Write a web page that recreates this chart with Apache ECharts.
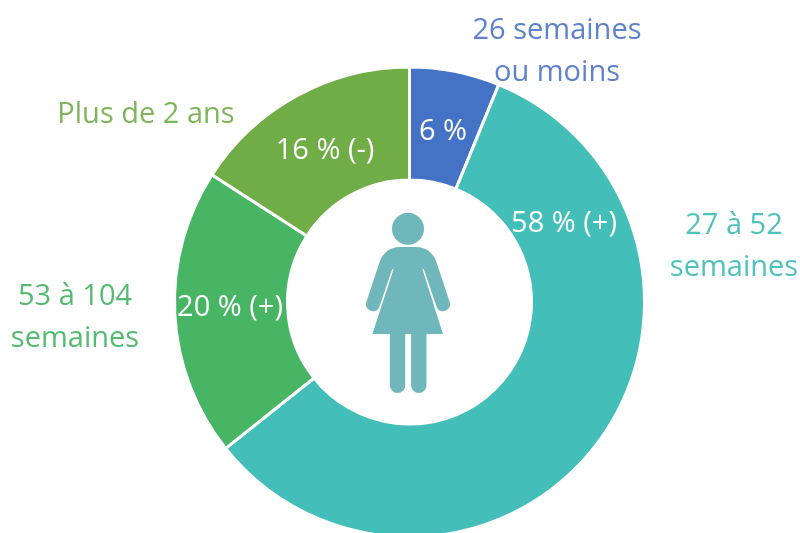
<!DOCTYPE html>
<html>
<head>
<meta charset="utf-8">
<style>
  html, body { margin: 0; background: #fff; }
  #chart { width: 800px; height: 533px; }
</style>
<script src="https://cdn.jsdelivr.net/npm/echarts@6/dist/echarts.min.js"></script>
</head>
<body>
<div id="chart"></div>
<script>
const categories = ['26 semaines\nou moins', '27 à 52\nsemaines', '53 à 104\nsemaines', 'Plus de 2 ans'];
const values = [6.2, 58.1, 19.8, 15.9];
const valueLabels = ['6 %', '58 % (+)', '20 % (+)', '16 % (-)'];

const sliceColors = ['#4472C4', '#43BEB8', '#47B563', '#70AD47'];
const nameColors = ['#5F82CC', '#50C2BC', '#55BB70', '#7FB55A'];
const valuePos = [[443, 132], [564, 224], [230, 308], [325, 151]];
const namePos = [[557, 52], [734, 247], [75, 318], [146, 115]];

const fontFamily = '"Open Sans", "Noto Sans", sans-serif';
const center = [409.5, 302];
const radius = [122, 235];

const personPath = 'M180 172 L228 172 Q268 172 286 214 L326 338 Q330 358 308 364 Q294 366 288 352 L250 238 L246 238 L306 432 L258 432 L258 586 A22.5 22.5 0 0 1 213 586 L213 432 L196 432 L196 586 A22.5 22.5 0 0 1 151 586 L151 432 L100 432 L162 238 L158 238 L120 352 Q114 366 100 364 Q78 358 82 338 L122 214 Q140 172 180 172 Z';

const chart = echarts.init(document.getElementById('chart'), null, { renderer: 'canvas' });

const pieData = categories.map((name, i) => ({
    name,
    value: values[i],
    itemStyle: { color: sliceColors[i] }
}));

chart.setOption({
    animation: false,
    backgroundColor: '#fff',
    series: [
        {
            // anneau + valeurs en blanc
            type: 'pie',
            center,
            radius,
            startAngle: 90,
            silent: true,
            itemStyle: { borderColor: '#fff', borderWidth: 3 },
            label: {
                show: true,
                position: 'inside',
                formatter: p => valueLabels[p.dataIndex],
                color: '#fff',
                fontFamily,
                fontSize: 29
            },
            labelLayout: p => ({
                x: valuePos[p.dataIndex][0],
                y: valuePos[p.dataIndex][1],
                align: 'center',
                verticalAlign: 'middle',
                hideOverlap: false
            }),
            data: pieData
        },
        {
            // noms des catégories autour de l'anneau
            type: 'pie',
            center,
            radius,
            startAngle: 90,
            silent: true,
            itemStyle: { color: 'transparent', borderWidth: 0 },
            labelLine: { show: false },
            label: {
                show: true,
                position: 'outside',
                formatter: p => p.name,
                fontFamily,
                fontSize: 29,
                lineHeight: 42,
                align: 'center',
                overflow: 'none'
            },
            labelLayout: p => ({
                x: namePos[p.dataIndex][0],
                y: namePos[p.dataIndex][1],
                align: 'center',
                verticalAlign: 'middle',
                hideOverlap: false
            }),
            data: categories.map((name, i) => ({
                name,
                value: values[i],
                itemStyle: { color: 'transparent' },
                label: { color: nameColors[i] }
            }))
        },
        {
            // silhouette au centre
            type: 'custom',
            coordinateSystem: 'none',
            silent: true,
            data: [0],
            renderItem: () => ({
                type: 'group',
                children: [
                    {
                        type: 'circle',
                        shape: { cx: 408, cy: 228.7, r: 16 },
                        style: { fill: '#6FB7BA' }
                    },
                    {
                        type: 'path',
                        shape: { pathData: personPath, layout: 'cover', x: 366, y: 247, width: 84, height: 146 },
                        style: { fill: '#6FB7BA' }
                    }
                ]
            })
        }
    ]
});

window.addEventListener('resize', () => chart.resize());
</script>
</body>
</html>
